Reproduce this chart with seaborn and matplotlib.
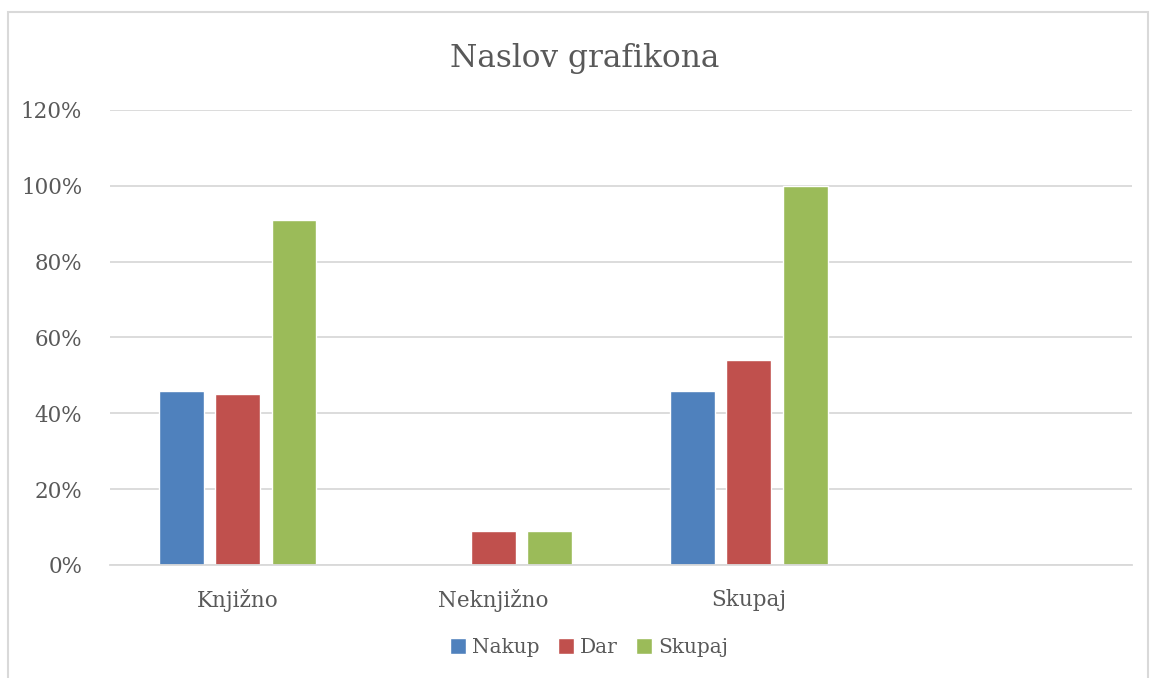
import pandas as pd
import numpy as np
import matplotlib.pyplot as plt
import seaborn as sns
from matplotlib.ticker import PercentFormatter

sns.set_theme(style='white')
plt.rcParams['font.family'] = ['DejaVu Serif']

# podatki
kategorije = ['Knjižno', 'Neknjižno', 'Skupaj']
nakup = [0.46, 0.0, 0.46]
dar = [0.45, 0.09, 0.54]
skupaj = [0.91, 0.09, 1.00]
serije = ['Nakup', 'Dar', 'Skupaj']
barve = ['#4F81BD', '#C0504D', '#9BBB59']

df = pd.DataFrame({'kategorija': kategorije * 3,
                   'serija': np.repeat(serije, len(kategorije)),
                   'vrednost': nakup + dar + skupaj})

siva = '#595959'
fig = plt.figure(figsize=(11.51, 6.78), dpi=100)
ax = fig.add_axes([0.0956, 0.1667, 0.888, 0.6711])

sns.barplot(data=df, x='kategorija', y='vrednost', hue='serija', order=kategorije,
            hue_order=serije, palette=barve, width=0.66, gap=0.2, saturation=1,
            ax=ax)

ax.set_xlim(-0.5, 3.5)
ax.set_ylim(0, 1.2)
ax.set_yticks(np.arange(0, 1.21, 0.2))
ax.yaxis.set_major_formatter(PercentFormatter(1.0, decimals=0))
ax.yaxis.grid(True, color='#D9D9D9', linewidth=1.3)
ax.set_axisbelow(True)
for s in ['top', 'right', 'left']:
    ax.spines[s].set_visible(False)
ax.spines['bottom'].set_color('#D9D9D9')
ax.spines['bottom'].set_linewidth(1.3)
ax.tick_params(axis='both', length=0, labelsize=15.5, labelcolor=siva)
ax.tick_params(axis='y', pad=20)
ax.tick_params(axis='x', pad=17)
ax.set_xlabel('')
ax.set_ylabel('')

fig.suptitle('Naslov grafikona', x=0.508, y=0.937, fontsize=22.5, color=siva)

h, l = ax.get_legend_handles_labels()
ax.legend(h, l, loc='center', bbox_to_anchor=(0.512, 0.045), bbox_transform=fig.transFigure,
          ncol=3, frameon=False, fontsize=14.5, labelcolor=siva, handlelength=0.8,
          handleheight=0.8, handletextpad=0.3, columnspacing=0.9)

# okvir grafikona
fig.add_artist(plt.Rectangle((0.007, -0.01), 0.99, 0.993, transform=fig.transFigure,
                             fill=False, edgecolor='#D9D9D9', linewidth=1.5))

fig.savefig('out.png', dpi=100)
